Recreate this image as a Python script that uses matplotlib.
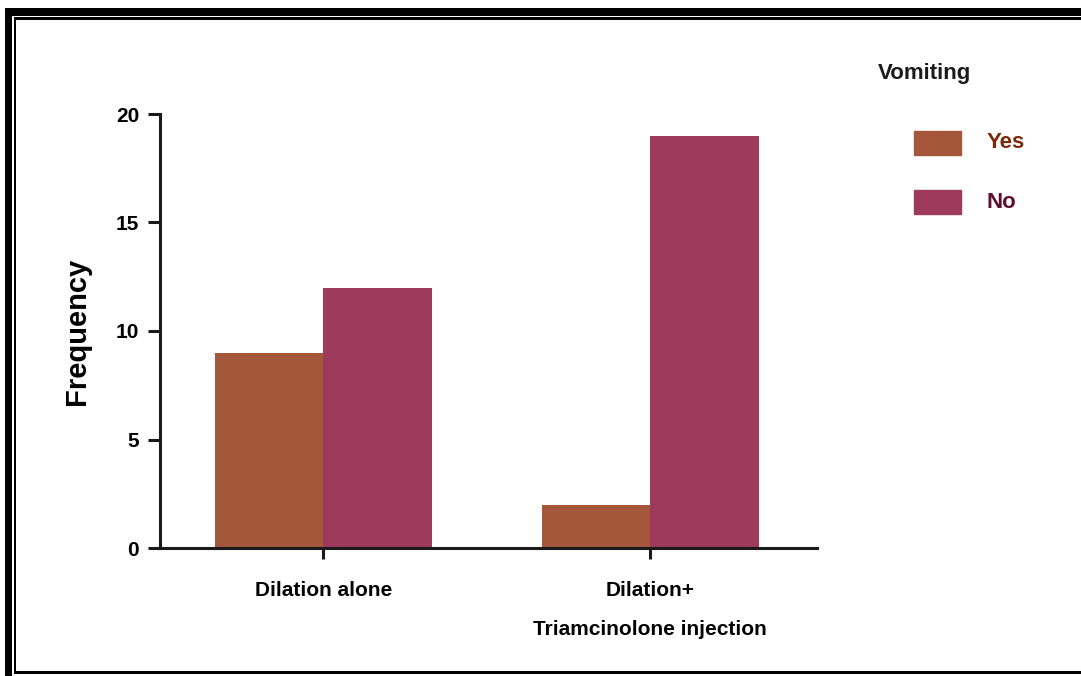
import numpy as np
import matplotlib.pyplot as plt
from matplotlib.patches import Rectangle

plt.rcParams['font.family'] = ['Liberation Sans', 'DejaVu Sans']

# data
groups = ['Dilation alone', 'Dilation+\nTriamcinolone injection']
yes_counts = [9, 2]
no_counts = [12, 19]
series_names = ['Yes', 'No']
yes_color = '#A5573C'
no_color = '#9E3A5C'

fig = plt.figure(figsize=(10.81, 6.76), dpi=100)
ax = fig.add_axes([160 / 1081, 128 / 676, 657 / 1081, 434 / 676])

x = np.arange(len(groups))
w = 0.332
ax.bar(x - w / 2, yes_counts, w, color=yes_color, label=series_names[0])
ax.bar(x + w / 2, no_counts, w, color=no_color, label=series_names[1])

ax.set_xlim(-0.5, 1.51)
ax.set_ylim(0, 20)
ax.set_yticks([0, 5, 10, 15, 20])
ax.set_xticks(x)
ax.set_xticklabels(groups, fontsize=15, fontweight='bold', linespacing=2.3)
for lab in ax.get_yticklabels():
    lab.set_fontsize(15)
    lab.set_fontweight('bold')
ax.set_ylabel('Frequency', fontsize=21, fontweight='bold', labelpad=18)

for s in ['top', 'right']:
    ax.spines[s].set_visible(False)
for s in ['left', 'bottom']:
    ax.spines[s].set_linewidth(2.2)
    ax.spines[s].set_color('#1a1a1a')
ax.tick_params(axis='y', length=9, width=2.2, color='#1a1a1a', pad=6)
ax.tick_params(axis='x', length=8, width=2.2, color='#1a1a1a', pad=16)

# legend drawn by hand in figure coords
fig.text(878 / 1081, 1 - 74 / 676, 'Vomiting', fontsize=16, fontweight='bold',
         va='center', ha='left', color='#1a1a1a')
leg_rows = [(143, yes_color, '#7A2A0A'), (202, no_color, '#5C0F2E')]
for name, (yc, c, tc) in zip(series_names, leg_rows):
    fig.add_artist(Rectangle((914 / 1081, 1 - (yc + 12) / 676), 47 / 1081, 24 / 676,
                             transform=fig.transFigure, color=c))
    fig.text(987 / 1081, 1 - yc / 676, name, fontsize=16, fontweight='bold',
             va='center', ha='left', color=tc)

# double frame around picture
def px_rect(x0, y0, x1, y1):
    fig.add_artist(Rectangle((x0 / 1081, 1 - y1 / 676), (x1 - x0) / 1081, (y1 - y0) / 676,
                             transform=fig.transFigure, color='black', lw=0))

px_rect(5, 8, 1081, 16)
px_rect(5, 8, 12, 676)
px_rect(14, 17, 1081, 20)
px_rect(14, 17, 16, 674)
px_rect(14, 671, 1081, 674)

fig.savefig('out.png', dpi=100)
